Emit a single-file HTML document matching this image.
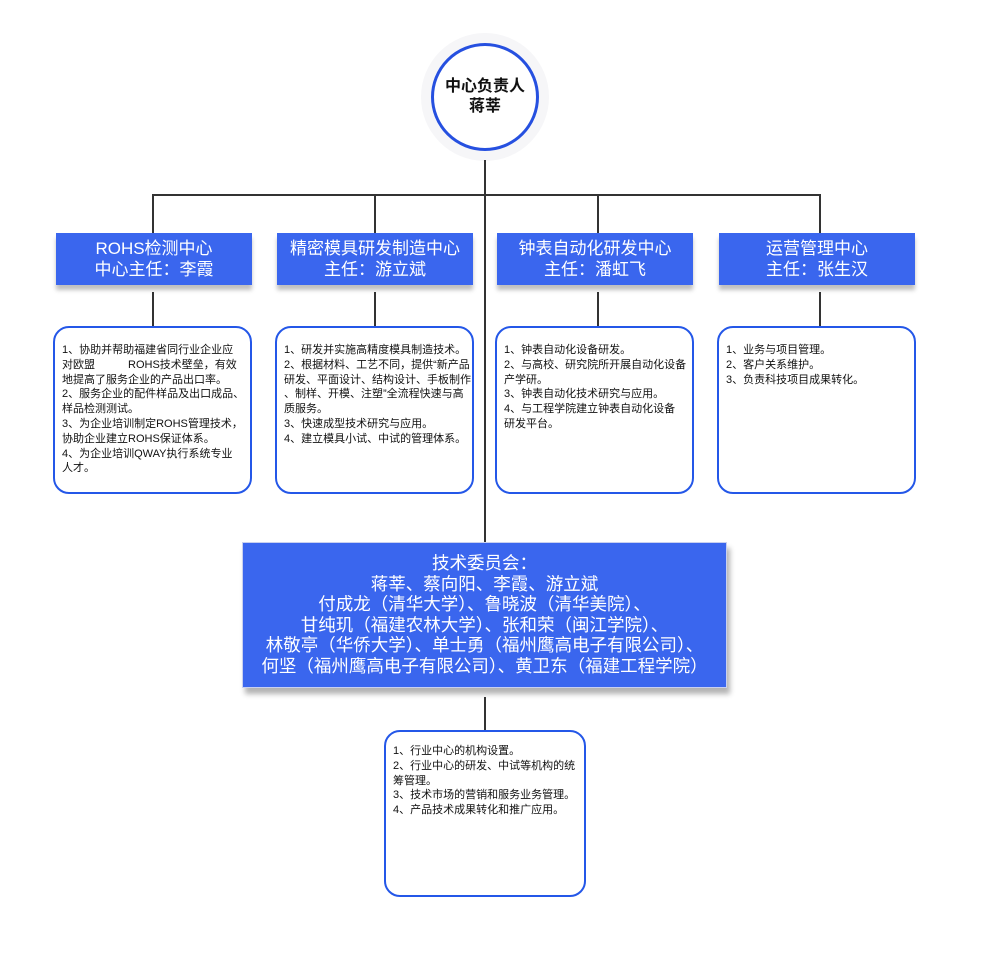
<!DOCTYPE html>
<html><head><meta charset="utf-8"><style>
body{margin:0;width:982px;height:961px;background:#fff;position:relative;font-family:"Liberation Sans","Noto Sans CJK SC",sans-serif;overflow:hidden}
.l{position:absolute;background:#333}
.h{position:absolute;top:233px;width:196px;height:52px;background:#3a66ee;color:#fff;font-size:17px;line-height:21px;text-align:center;box-shadow:0 5px 4px rgba(0,0,0,.25);display:flex;flex-direction:column;justify-content:center}
.t{position:absolute;top:326px;width:199px;height:168px;border:2.5px solid #2457e8;border-radius:16px;background:#fff;font-size:11px;line-height:14.8px;color:#111;padding:15px 4px 0 7px;box-sizing:border-box;white-space:nowrap;overflow:hidden}
</style></head><body>
<div style="position:absolute;left:421px;top:33px;width:128px;height:128px;border-radius:50%;background:#f6f6f8"></div>
<div style="position:absolute;left:431px;top:43px;width:102px;height:102px;border-radius:50%;border:3px solid #2650e0;background:#fff;display:flex;flex-direction:column;justify-content:center;align-items:center;font-weight:bold;font-size:16px;line-height:20px;color:#111">中心负责人<span>蒋莘</span></div>

<div class="l" style="left:484px;top:160px;width:2px;height:383px"></div>
<div class="l" style="left:152px;top:194px;width:669px;height:2px"></div>
<div class="l" style="left:152px;top:194px;width:2px;height:39px"></div>
<div class="l" style="left:374px;top:194px;width:2px;height:39px"></div>
<div class="l" style="left:597px;top:194px;width:2px;height:39px"></div>
<div class="l" style="left:819px;top:194px;width:2px;height:39px"></div>
<div class="l" style="left:152px;top:292px;width:2px;height:35px"></div>
<div class="l" style="left:374px;top:292px;width:2px;height:35px"></div>
<div class="l" style="left:597px;top:292px;width:2px;height:35px"></div>
<div class="l" style="left:819px;top:292px;width:2px;height:35px"></div>
<div class="l" style="left:484px;top:697px;width:2px;height:33px"></div>

<div class="h" style="left:56px">ROHS检测中心<br>中心主任：李霞</div>
<div class="h" style="left:277px">精密模具研发制造中心<br>主任：游立斌</div>
<div class="h" style="left:497px">钟表自动化研发中心<br>主任：潘虹飞</div>
<div class="h" style="left:719px">运营管理中心<br>主任：张生汉</div>

<div class="t" style="left:53px">1、协助并帮助福建省同行业企业应<br>对欧盟　　　ROHS技术壁垒，有效<br>地提高了服务企业的产品出口率。<br>2、服务企业的配件样品及出口成品、<br>样品检测测试。<br>3、为企业培训制定ROHS管理技术，<br>协助企业建立ROHS保证体系。<br>4、为企业培训QWAY执行系统专业<br>人才。</div>
<div class="t" style="left:275px">1、研发并实施高精度模具制造技术。<br>2、根据材料、工艺不同，提供“新产品<br>研发、平面设计、结构设计、手板制作<br>、制样、开模、注塑”全流程快速与高<br>质服务。<br>3、快速成型技术研究与应用。<br>4、建立模具小试、中试的管理体系。</div>
<div class="t" style="left:495px">1、钟表自动化设备研发。<br>2、与高校、研究院所开展自动化设备<br>产学研。<br>3、钟表自动化技术研究与应用。<br>4、与工程学院建立钟表自动化设备<br>研发平台。</div>
<div class="t" style="left:717px">1、业务与项目管理。<br>2、客户关系维护。<br>3、负责科技项目成果转化。</div>

<div style="position:absolute;left:242px;top:542px;width:485px;height:146px;background:#3a66ee;border:1px solid #c8d0f0;box-sizing:border-box;box-shadow:3px 6px 5px rgba(0,0,0,.3);color:#fff;font-size:17.5px;line-height:20.5px;text-align:center;padding-top:10px;white-space:nowrap">技术委员会：<br>蒋莘、蔡向阳、李霞、游立斌<br>付成龙（清华大学）、鲁晓波（清华美院）、<br>甘纯玑（福建农林大学）、张和荣（闽江学院）、<br>林敬亭（华侨大学）、单士勇（福州鹰高电子有限公司）、<br>何坚（福州鹰高电子有限公司）、黄卫东（福建工程学院）</div>

<div class="t" style="left:384px;top:730px;width:202px;height:167px;padding-top:12px">1、行业中心的机构设置。<br>2、行业中心的研发、中试等机构的统<br>筹管理。<br>3、技术市场的营销和服务业务管理。<br>4、产品技术成果转化和推广应用。</div>
</body></html>
